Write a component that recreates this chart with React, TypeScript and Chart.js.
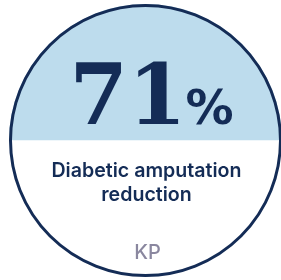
import React, { useEffect, useRef } from "react";
import { Chart, registerables } from "chart.js";

Chart.register(...registerables);

const statValue = [71];
const statUnit = ["%"];
const descriptionLines = ["Diabetic amputation", "reduction"];
const sourceLabel = ["KP"];
const splitShares = [50, 50];

const NAVY = "#142c56";
const LIGHT = "#bddced";
const GREY = "#8a879f";

const badgePlugin = {
  id: "badge",
  afterDatasetsDraw(chart: any) {
    const arc = chart.getDatasetMeta(0).data[0];
    if (!arc) return;
    const cx = arc.x;
    const cy = arc.y;
    const r = arc.outerRadius;
    const ctx = chart.ctx;
    ctx.save();
    // outline
    ctx.beginPath();
    ctx.arc(cx, cy, r - 1.5, 0, Math.PI * 2);
    ctx.lineWidth = 3;
    ctx.strokeStyle = NAVY;
    ctx.stroke();

    // big number
    ctx.fillStyle = NAVY;
    ctx.textBaseline = "alphabetic";
    ctx.font = "bold 84px 'DejaVu Serif'";
    ctx.textAlign = "right";
    ctx.fillText(String(statValue[0]), cx + 41, cy - 17);
    ctx.font = "bold 48px 'DejaVu Sans'";
    ctx.textAlign = "left";
    ctx.fillText(statUnit[0], cx + 40, cy - 17);

    // description
    ctx.textAlign = "center";
    ctx.font = "600 19.6px Inter";
    ctx.fillText(descriptionLines[0], cx + 1, cy + 36);
    ctx.fillText(descriptionLines[1], cx + 1, cy + 60);

    // source
    ctx.fillStyle = GREY;
    ctx.font = "500 20px Inter";
    ctx.fillText(sourceLabel[0], cx + 2, cy + 118);
    ctx.restore();
  },
};

export default function App() {
  const ref = useRef<HTMLCanvasElement>(null);
  useEffect(() => {
    if (!ref.current) return;
    const chart = new Chart(ref.current, {
      type: "pie",
      data: {
        labels: ["top", "bottom"],
        datasets: [
          {
            data: splitShares,
            backgroundColor: [LIGHT, "#ffffff"],
            borderWidth: 0,
          },
        ],
      },
      options: {
        animation: false,
        responsive: false,
        rotation: -90,
        layout: { padding: { left: 9, top: 4, right: 18, bottom: 3 } },
        plugins: { legend: { display: false }, tooltip: { enabled: false } },
        events: [],
      },
      plugins: [badgePlugin],
    });
    return () => chart.destroy();
  }, []);
  return (
    <div
      style={{
        position: "fixed",
        left: 0,
        top: 0,
        width: 281,
        height: 280,
        overflow: "hidden",
        background: "#fff",
      }}
    >
      <canvas ref={ref} width={300} height={280} style={{ display: "block" }} />
    </div>
  );
}
